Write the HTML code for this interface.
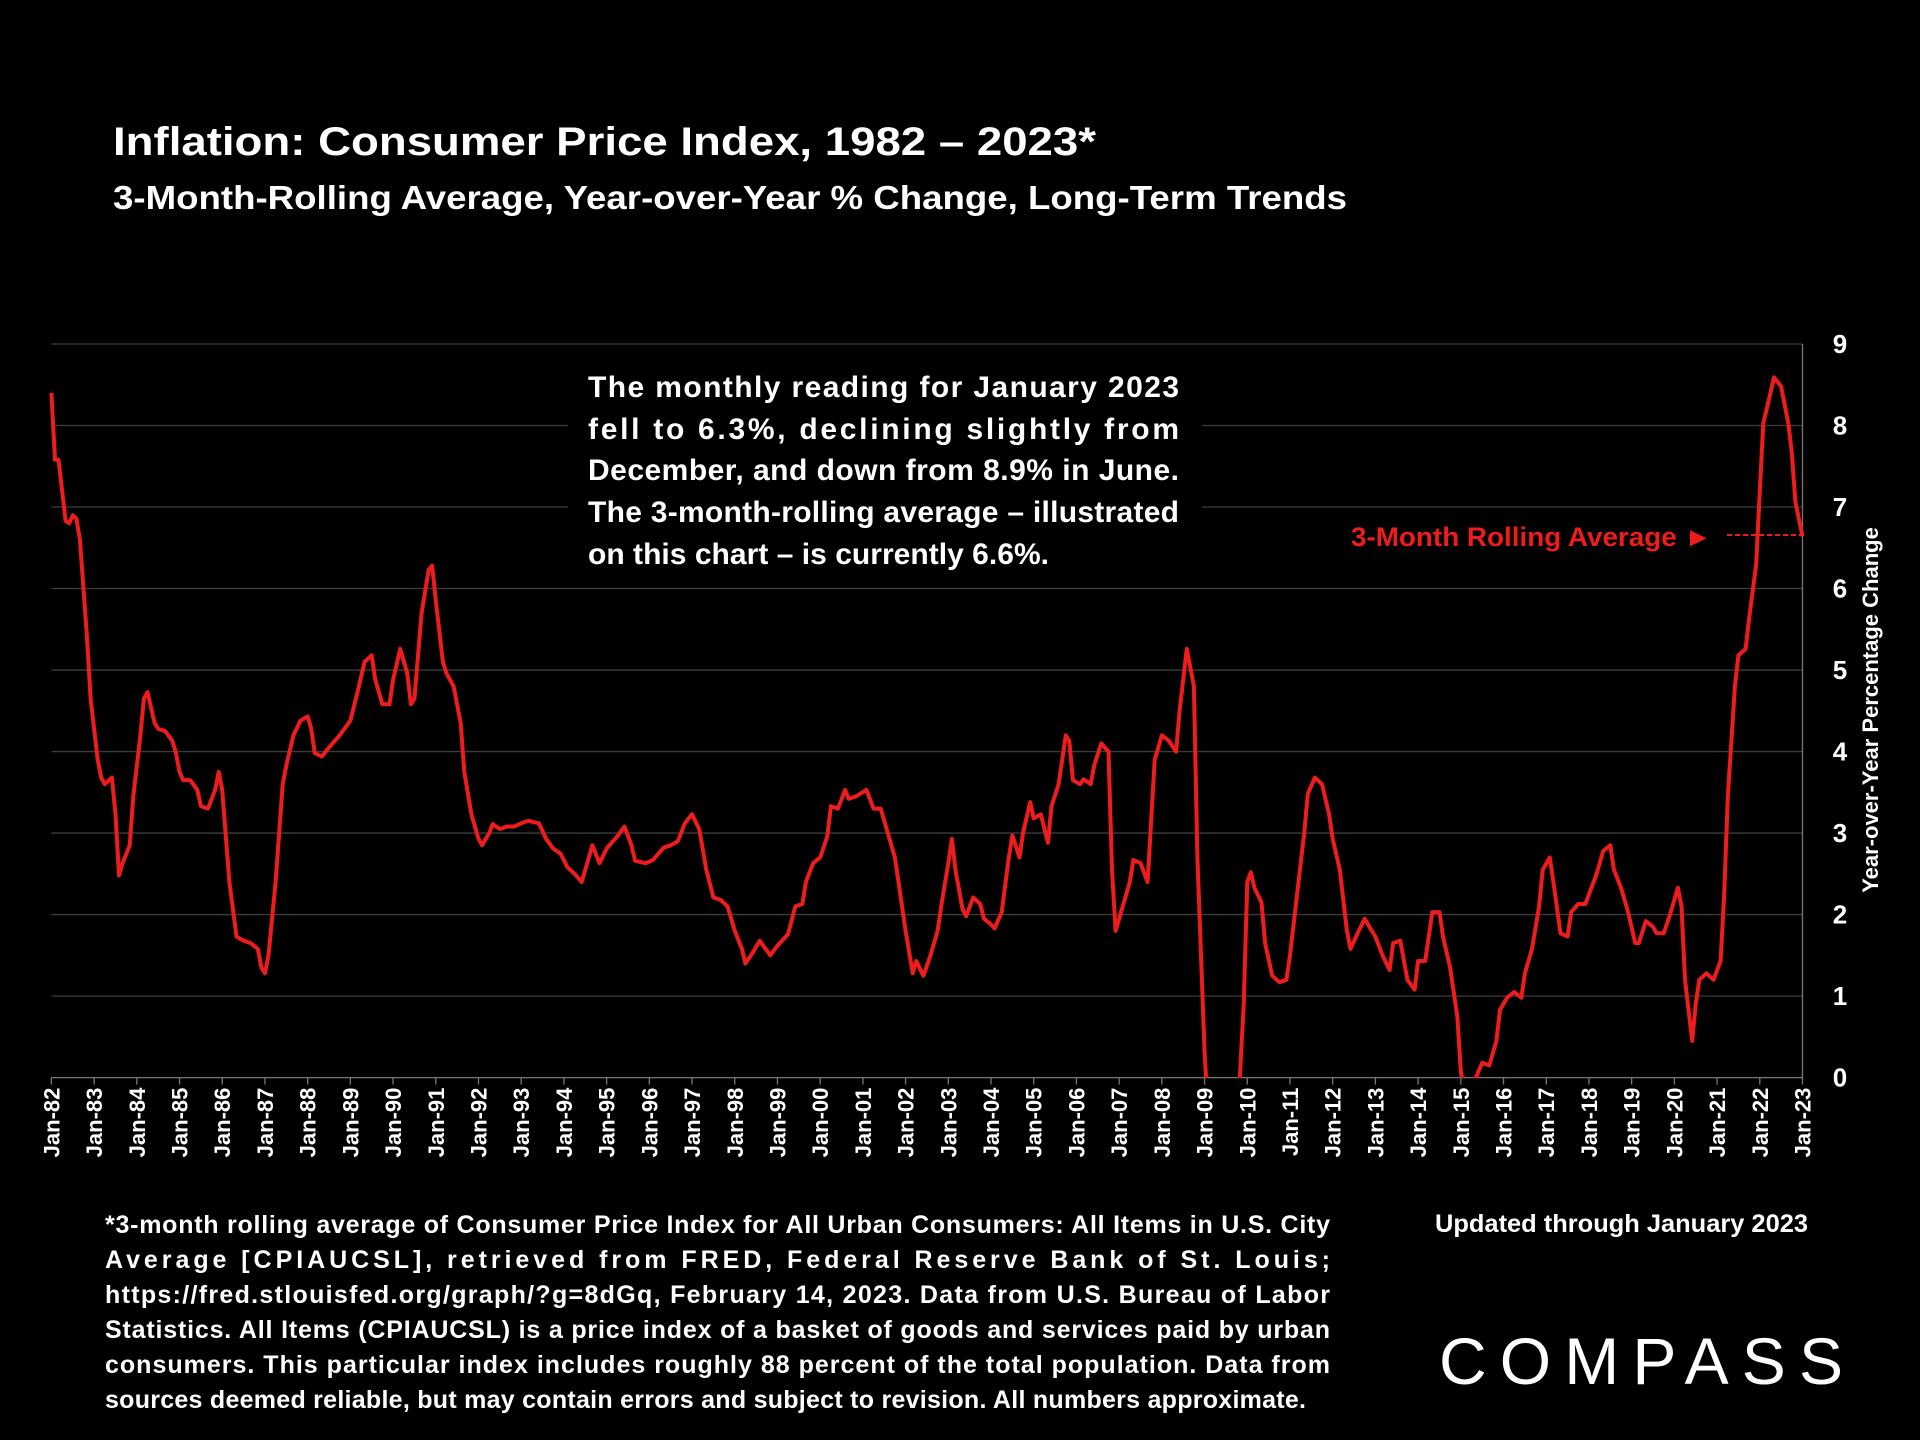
<!DOCTYPE html>
<html><head><meta charset="utf-8"><style>
html,body{margin:0;padding:0;background:#000;}
svg{display:block;font-family:"Liberation Sans",sans-serif;}
</style></head><body>
<svg id="chart" width="1920" height="1440" viewBox="0 0 1920 1440" xmlns="http://www.w3.org/2000/svg">
<rect width="1920" height="1440" fill="#000"/>
<text x="113" y="155" fill="#fff" font-size="40" font-weight="bold" textLength="983" lengthAdjust="spacingAndGlyphs">Inflation: Consumer Price Index, 1982 – 2023*</text>
<text x="113" y="209" fill="#fff" font-size="33" font-weight="bold" textLength="1234" lengthAdjust="spacingAndGlyphs">3-Month-Rolling Average, Year-over-Year % Change, Long-Term Trends</text>
<g id="grid"></g>
<g id="xaxis"></g>
<g id="yaxis"></g>
<clipPath id="clip"><rect x="40" y="330" width="1770" height="748"/></clipPath>
<path id="line" fill="none" stroke="#ee1c1c" stroke-width="4" stroke-linejoin="round" clip-path="url(#clip)"/>
<rect x="568" y="372" width="634" height="200" fill="#000"/>
<g fill="#fff" font-size="30" font-weight="bold">
<text x="588" y="397" textLength="591" lengthAdjust="spacing">The monthly reading for January 2023</text>
<text x="588" y="439" textLength="591" lengthAdjust="spacing">fell to 6.3%, declining slightly from</text>
<text x="588" y="480" textLength="591" lengthAdjust="spacing">December, and down from 8.9% in June.</text>
<text x="588" y="522" textLength="591" lengthAdjust="spacing">The 3-month-rolling average – illustrated</text>
<text x="588" y="564" textLength="461" lengthAdjust="spacing">on this chart – is currently 6.6%.</text>
</g>
<text x="1351" y="546" fill="#ee1c1c" font-size="27" font-weight="bold" textLength="361" lengthAdjust="spacingAndGlyphs">3-Month Rolling Average ►</text>
<line x1="1727" y1="535" x2="1803" y2="535" stroke="#ee1c1c" stroke-width="2" stroke-dasharray="5,3"/>
<text transform="translate(1878,710) rotate(-90)" text-anchor="middle" fill="#fff" font-size="22" font-weight="bold">Year-over-Year Percentage Change</text>
<g fill="#fff" font-size="25" font-weight="bold">
<text x="105" y="1233" textLength="1225" lengthAdjust="spacing">*3-month rolling average of Consumer Price Index for All Urban Consumers: All Items in U.S. City</text>
<text x="105" y="1268" textLength="1225" lengthAdjust="spacing">Average [CPIAUCSL], retrieved from FRED, Federal Reserve Bank of St. Louis;</text>
<text x="105" y="1303" textLength="1225" lengthAdjust="spacing">https://fred.stlouisfed.org/graph/?g=8dGq, February 14, 2023. Data from U.S. Bureau of Labor</text>
<text x="105" y="1338" textLength="1225" lengthAdjust="spacing">Statistics. All Items (CPIAUCSL) is a price index of a basket of goods and services paid by urban</text>
<text x="105" y="1373" textLength="1225" lengthAdjust="spacing">consumers. This particular index includes roughly 88 percent of the total population. Data from</text>
<text x="105" y="1408" textLength="1201" lengthAdjust="spacing">sources deemed reliable, but may contain errors and subject to revision. All numbers approximate.</text>
</g>
<text x="1435" y="1232" fill="#fff" font-size="25" font-weight="bold" textLength="373" lengthAdjust="spacingAndGlyphs">Updated through January 2023</text>
<text x="1439" y="1384" fill="#fff" font-size="66" textLength="404" lengthAdjust="spacing">COMPASS</text>
</svg>
<script>
const months = [0,1,2,4,5,6,7,8,10,11,13,14,15,17,18,19,20,22,23,25,26,27,29,30,32,34,35,36,37,39,41,42,44,46,47,48,50,52,54,56,58,59,60,61,63,65,66,68,70,72,73,74,76,78,81,84,86,88,90,91,93,95,96,98,100,101,102,104,106,107,108,110,111,113,115,116,118,120,121,123,124,126,128,130,132,134,137,139,141,143,145,147,149,152,154,156,159,161,163,164,167,169,172,174,176,178,180,182,184,186,188,190,192,194,195,197,199,200,202,204,207,209,211,212,214,216,218,219,221,223,224,226,229,231,233,235,237,238,240,242,243,245,247,249,250,252,253,254,256,257,259,261,262,264,265,267,269,270,272,273,275,276,278,280,281,283,285,286,287,289,290,292,293,295,297,298,299,301,303,304,306,308,310,312,314,316,317,319,321,322,324,326,329,333,335,336,337,338,340,341,343,345,347,348,350,352,353,355,357,359,360,362,364,365,367,369,371,372,374,376,377,379,381,383,384,386,388,390,391,393,395,396,397,399,401,402,404,406,407,409,411,413,414,416,418,419,421,422,424,426,427,429,431,432,434,436,438,439,441,443,445,446,448,450,451,453,455,457,458,459,461,462,463,465,467,469,470,471,473,474,476,477,479,480,481,483,484,486,488,489,490,492];
const values = [8.4,7.58,7.58,6.83,6.8,6.9,6.86,6.6,5.4,4.65,3.9,3.68,3.6,3.68,3.23,2.48,2.63,2.85,3.45,4.2,4.65,4.73,4.35,4.28,4.25,4.13,3.98,3.75,3.65,3.65,3.53,3.33,3.3,3.53,3.75,3.53,2.4,1.73,1.68,1.65,1.58,1.35,1.28,1.5,2.4,3.6,3.83,4.2,4.38,4.43,4.28,3.98,3.94,4.05,4.2,4.38,4.73,5.1,5.18,4.88,4.58,4.58,4.88,5.26,4.96,4.58,4.65,5.7,6.23,6.28,5.85,5.1,4.96,4.8,4.35,3.75,3.23,2.93,2.85,3.0,3.11,3.05,3.08,3.08,3.12,3.15,3.12,2.93,2.81,2.75,2.58,2.5,2.4,2.85,2.63,2.81,2.96,3.08,2.85,2.66,2.63,2.67,2.82,2.85,2.9,3.12,3.23,3.05,2.55,2.21,2.18,2.1,1.8,1.58,1.4,1.53,1.68,1.62,1.5,1.62,1.76,2.1,2.13,2.4,2.63,2.7,2.96,3.33,3.3,3.53,3.42,3.45,3.53,3.3,3.3,3.0,2.7,2.4,1.8,1.28,1.43,1.25,1.5,1.8,2.1,2.63,2.93,2.55,2.07,1.98,2.21,2.13,1.95,1.88,1.83,2.03,2.7,2.97,2.7,3.0,3.38,3.18,3.23,2.88,3.33,3.6,4.2,4.13,3.65,3.6,3.66,3.6,3.83,4.1,4.0,2.55,1.8,2.1,2.4,2.67,2.63,2.4,3.9,4.2,4.13,4.0,4.5,5.26,4.8,2.7,0.3,-1.2,-1.4,-0.75,0.9,2.4,2.52,2.33,2.15,1.65,1.25,1.17,1.2,1.5,2.25,3.0,3.48,3.68,3.6,3.23,2.93,2.55,1.8,1.58,1.77,1.95,1.8,1.73,1.5,1.32,1.65,1.68,1.2,1.08,1.43,1.43,2.03,2.03,1.73,1.35,0.75,0.08,-0.2,-0.15,0.08,0.18,0.15,0.45,0.83,0.98,1.05,0.98,1.28,1.58,2.1,2.55,2.7,2.4,1.77,1.73,2.03,2.13,2.13,2.25,2.48,2.78,2.85,2.55,2.33,2.03,1.65,1.65,1.92,1.85,1.77,1.77,2.03,2.33,2.1,1.2,0.45,0.9,1.2,1.28,1.2,1.43,2.25,3.45,4.8,5.18,5.26,5.63,6.3,7.2,8.03,8.4,8.59,8.48,8.03,7.66,7.06,6.64];
const yTicks = [0,1,2,3,4,5,6,7,8,9];
const xLabels = ["Jan-82","Jan-83","Jan-84","Jan-85","Jan-86","Jan-87","Jan-88","Jan-89","Jan-90","Jan-91","Jan-92","Jan-93","Jan-94","Jan-95","Jan-96","Jan-97","Jan-98","Jan-99","Jan-00","Jan-01","Jan-02","Jan-03","Jan-04","Jan-05","Jan-06","Jan-07","Jan-08","Jan-09","Jan-10","Jan-11","Jan-12","Jan-13","Jan-14","Jan-15","Jan-16","Jan-17","Jan-18","Jan-19","Jan-20","Jan-21","Jan-22","Jan-23"];

const X0=51.4, X1=1802.5, Y0=1077.6, Y9=344, NS="http://www.w3.org/2000/svg";
const xScale = m => X0 + (X1-X0)*m/492;
const yScale = v => Y0 - (Y0-Y9)*v/9;

const grid=document.getElementById('grid'), yax=document.getElementById('yaxis'), xax=document.getElementById('xaxis');
yTicks.forEach(t=>{
  const y=yScale(t);
  if(t>0){
    const l=document.createElementNS(NS,'line');
    
    
    l.setAttribute('x1',X0);l.setAttribute('x2',X1);l.setAttribute('y1',y);l.setAttribute('y2',y);
    l.setAttribute('stroke','#3c3c3c');l.setAttribute('stroke-width','1.3');
    grid.appendChild(l);
  }
  const tx=document.createElementNS(NS,'text');
  
  
  tx.setAttribute('x',1840);tx.setAttribute('y',y+9);
  tx.setAttribute('text-anchor','middle');tx.setAttribute('fill','#fff');
  tx.setAttribute('font-size','26');tx.setAttribute('font-weight','bold');
  tx.textContent=t;yax.appendChild(tx);
});
const va=document.createElementNS(NS,'line');


va.setAttribute('x1',X1);va.setAttribute('x2',X1);va.setAttribute('y1',Y9);va.setAttribute('y2',Y0);
va.setAttribute('stroke','#777');va.setAttribute('stroke-width','1.3');yax.appendChild(va);
const ha=document.createElementNS(NS,'line');


ha.setAttribute('x1',X0);ha.setAttribute('x2',X1);ha.setAttribute('y1',Y0);ha.setAttribute('y2',Y0);
ha.setAttribute('stroke','#777');ha.setAttribute('stroke-width','1.3');xax.appendChild(ha);
xLabels.forEach((lab,i)=>{
  const x=xScale(i*12);
  const tk=document.createElementNS(NS,'line');
  
  
  tk.setAttribute('x1',x);tk.setAttribute('x2',x);tk.setAttribute('y1',Y0);tk.setAttribute('y2',Y0+7);
  tk.setAttribute('stroke','#777');tk.setAttribute('stroke-width','1.3');xax.appendChild(tk);
  const tx=document.createElementNS(NS,'text');
  
  
  tx.setAttribute('transform','translate('+(x+8)+','+(Y0+10)+') rotate(-90)');
  tx.setAttribute('text-anchor','end');tx.setAttribute('fill','#fff');
  tx.setAttribute('font-size','22');tx.setAttribute('font-weight','bold');
  tx.textContent=lab;xax.appendChild(tx);
});
let d='';
months.forEach((m,i)=>{d+=(i?'L':'M')+xScale(m).toFixed(1)+','+yScale(values[i]).toFixed(1);});
document.getElementById('line').setAttribute('d',d);
</script>
</body></html>
